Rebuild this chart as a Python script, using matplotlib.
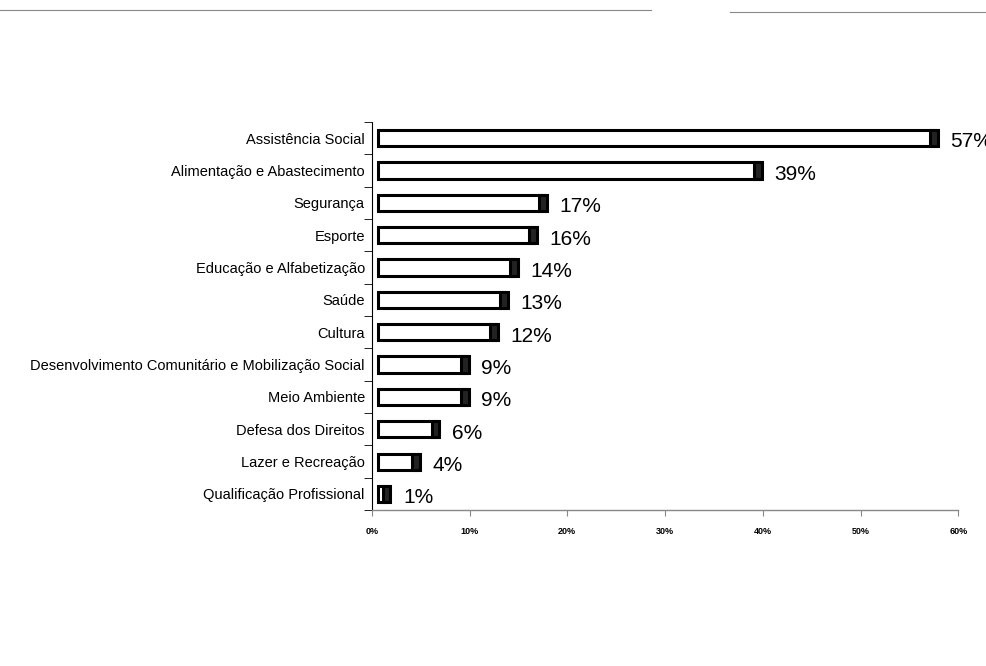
import matplotlib
matplotlib.use('Agg')
from matplotlib import pyplot as plt
from matplotlib.lines import Line2D
import numpy as np

categories = ['Assistência Social', 'Alimentação e Abastecimento', 'Segurança', 'Esporte',
              'Educação e Alfabetização', 'Saúde', 'Cultura',
              'Desenvolvimento Comunitário e Mobilização Social', 'Meio Ambiente',
              'Defesa dos Direitos', 'Lazer e Recreação', 'Qualificação Profissional']
values = [57, 39, 17, 16, 14, 13, 12, 9, 9, 6, 4, 1]
xticks = [0, 10, 20, 30, 40, 50, 60]

plt.rcParams['font.family'] = ['Liberation Sans', 'DejaVu Sans']

fig = plt.figure(figsize=(9.86, 6.66), dpi=100)
ax = fig.add_axes([0.377, 0.234, 0.595, 0.583])

y = np.arange(len(categories))
vals = np.array(values)
depth = 0.8

# bar body (offset a bit for the old 3D look)
ax.barh(y, vals, left=0.6, height=0.5, color='white', edgecolor='black', linewidth=2.2, zorder=3)
# dark end cap
ax.barh(y, depth, left=vals + 0.6 - depth * 0.6, height=0.5, color='#222222', edgecolor='black',
        linewidth=2.2, zorder=4)

for yi, v in zip(y, vals):
    ax.text(v + 2.2, yi + 0.12, f'{v}%', fontsize=15, va='center', ha='left', zorder=5)

ax.set_xlim(0, 60)
ax.set_ylim(len(categories) - 0.5, -0.5)
ax.set_xticks(xticks)
ax.set_xticklabels([f'{t}%' for t in xticks], fontsize=6.5, fontweight='bold')
ax.tick_params(axis='x', length=4, color='#888888', pad=8)

ax.set_yticks(y)
ax.set_yticklabels(categories, fontsize=10.5)
ax.tick_params(axis='y', which='major', length=0, pad=5)
ax.set_yticks(np.arange(len(categories) + 1) - 0.5, minor=True)
ax.tick_params(axis='y', which='minor', length=6, color='black', direction='out')

for s in ['top', 'right']:
    ax.spines[s].set_visible(False)
ax.spines['left'].set_color('black')
ax.spines['left'].set_linewidth(0.8)
ax.spines['left'].set_linestyle((0, (4, 1)))
ax.spines['bottom'].set_color('#888888')
ax.spines['bottom'].set_linewidth(1)

# faint scan border at top of page
fig.add_artist(Line2D([0.0, 0.66], [0.985, 0.985], color='#888888', linewidth=0.8))
fig.add_artist(Line2D([0.74, 1.0], [0.982, 0.982], color='#888888', linewidth=0.8))

plt.savefig('out.png', dpi=100)
